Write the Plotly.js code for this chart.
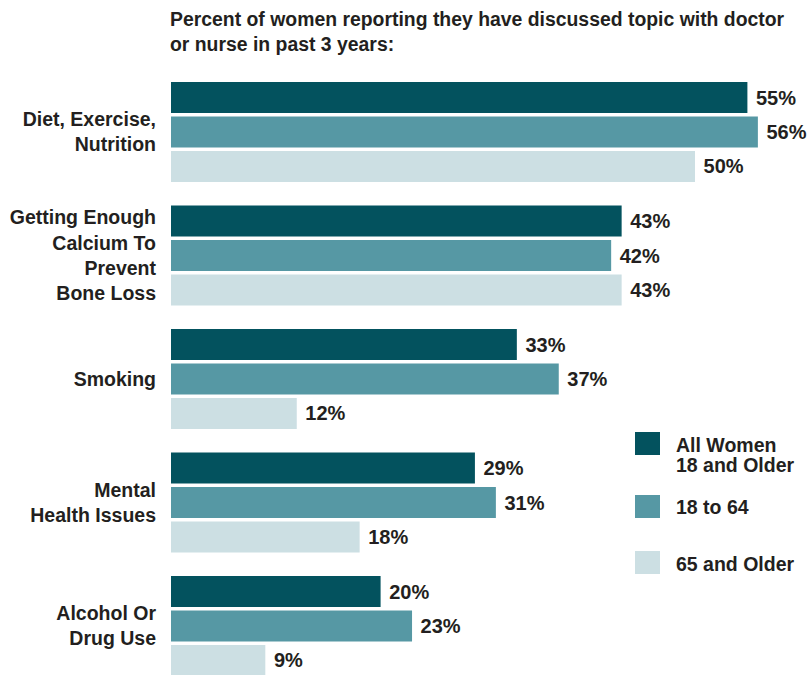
<!DOCTYPE html>
<html>
<head>
<meta charset="utf-8">
<script src="https://cdn.plot.ly/plotly-3.0.1.min.js"></script>
<style>html,body{margin:0;padding:0;background:#fff;}#chart{width:808px;height:675px;}</style>
</head>
<body>
<div id="chart"></div>
<script>
const categories = [
  "Diet, Exercise,<br>Nutrition",
  "Getting Enough<br>Calcium To<br>Prevent<br>Bone Loss",
  "Smoking",
  "Mental<br>Health Issues",
  "Alcohol Or<br>Drug Use"
];
const seriesNames = ["All Women<br>18 and Older", "18 to 64", "65 and Older"];
const allWomen = [55, 43, 33, 29, 20];
const age18to64 = [56, 42, 37, 31, 23];
const age65plus = [50, 43, 12, 18, 9];
const seriesValues = [allWomen, age18to64, age65plus];
const colors = ["#03525E", "#5698A4", "#CCDFE3"];
const titleText = "Percent of women reporting they have discussed topic with doctor<br>or nurse in past 3 years:";

const FONT = '"Liberation Sans", Arial, sans-serif';
const TXT = "#231F20";

const W = 808, H = 675, ML = 171, MT = 70, MR = 0, MB = 0;
const pw = W - ML - MR, ph = H - MT - MB;
const px2x = p => (p - ML) / pw;
const px2y = p => (H - MB - p) / ph;

const traces = seriesValues.map((vals, i) => ({
  type: "bar",
  orientation: "h",
  name: seriesNames[i],
  x: vals,
  y: categories,
  marker: {color: colors[i], line: {width: 0}},
  texttemplate: " %{x}%",
  textposition: "outside",
  cliponaxis: false,
  textfont: {family: FONT, size: 20, color: TXT, weight: "bold"},
  hoverinfo: "skip"
}));

// legend: squares + text (line by line for tighter spacing)
const legendTops = [432, 495, 551];
const shapes = legendTops.map((t, i) => ({
  type: "rect", xref: "paper", yref: "paper",
  x0: px2x(635), x1: px2x(660), y0: px2y(t + 23), y1: px2y(t),
  fillcolor: colors[i], line: {width: 0}
}));
const annotations = [];
legendTops.forEach((t, i) => {
  seriesNames[i].split("<br>").forEach((line, k) => {
    annotations.push({
      xref: "paper", yref: "paper",
      x: px2x(674), y: px2y(t + 12.5 + 20 * k),
      xanchor: "left", yanchor: "middle", align: "left",
      text: line, showarrow: false,
      font: {family: FONT, size: 19.5, color: TXT, weight: "bold"}
    });
  });
});
annotations.push({
  xref: "paper", yref: "paper",
  x: px2x(168), y: px2y(6),
  xanchor: "left", yanchor: "top", align: "left",
  text: titleText, showarrow: false,
  font: {family: FONT, size: 19.4, color: TXT, weight: "bold"}
});

const layout = {
  width: W, height: H,
  margin: {l: ML, r: MR, t: MT, b: MB, pad: 0},
  paper_bgcolor: "#fff", plot_bgcolor: "#fff",
  showlegend: false,
  barmode: "group",
  bargap: 0.162,
  bargroupgap: 0.1,
  xaxis: {range: [0, pw / 10.48], visible: false, fixedrange: true},
  yaxis: {
    type: "category",
    range: [(H - MB - 132) / 123.5, (MT - 132) / 123.5],
    showgrid: false, zeroline: false, showline: false,
    ticks: "", ticklabelstandoff: 14,
    tickfont: {family: FONT, size: 19.5, color: TXT, weight: "bold"},
    fixedrange: true
  },
  shapes: shapes,
  annotations: annotations,
  font: {family: FONT}
};

Plotly.newPlot("chart", traces, layout, {displayModeBar: false, staticPlot: true});
</script>
</body>
</html>
